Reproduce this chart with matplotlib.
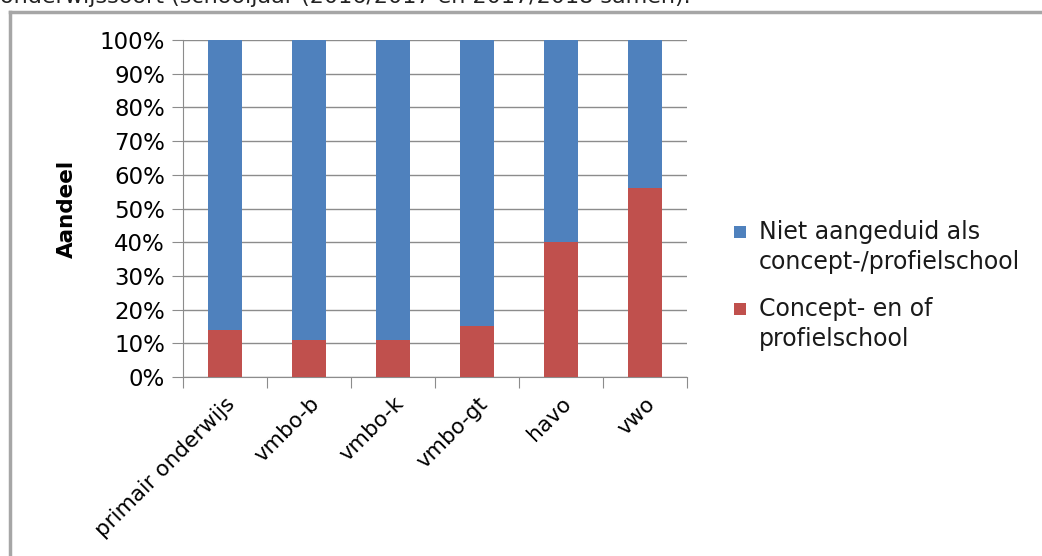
import numpy as np
import matplotlib.pyplot as plt
from matplotlib.lines import Line2D
from matplotlib.patches import Rectangle
from matplotlib.ticker import PercentFormatter

categories = ["primair onderwijs", "vmbo-b", "vmbo-k", "vmbo-gt", "havo", "vwo"]
concept = [14, 11, 11, 15, 40, 56]
niet = [100 - v for v in concept]
labels = ["Niet aangeduid als\nconcept-/profielschool", "Concept- en of\nprofielschool"]
colors = ["#4F81BD", "#C0504D"]

W, H = 1042, 556
fig = plt.figure(figsize=(W / 100, H / 100), dpi=100)
ax = fig.add_axes([183 / W, 1 - 377 / H, (687 - 183) / W, (377 - 40) / H])

x = np.arange(len(categories))
ax.bar(x, concept, width=0.4, color=colors[1], zorder=3)
ax.bar(x, niet, width=0.4, bottom=concept, color=colors[0], zorder=3)

ax.set_xlim(-0.5, len(categories) - 0.5)
ax.set_ylim(0, 100)
ax.set_yticks(range(0, 101, 10))
ax.yaxis.set_major_formatter(PercentFormatter(decimals=0))
ax.grid(axis="y", color="#8c8c8c", linewidth=1.0, zorder=0)

ax.set_xticks(np.arange(len(categories) + 1) - 0.5)
ax.set_xticklabels([])
ax.set_xticks(x, minor=True)
ax.set_xticklabels(categories, minor=True, rotation=45, ha="right",
                   rotation_mode="anchor", fontsize=15.5)
ax.tick_params(axis="x", which="minor", length=0, pad=12)
ax.tick_params(axis="x", which="major", length=8, color="#8c8c8c")
ax.tick_params(axis="y", length=8, color="#8c8c8c", labelsize=16.5, pad=5)

for side in ["top", "right"]:
    ax.spines[side].set_visible(False)
for side in ["left", "bottom"]:
    ax.spines[side].set_color("#8c8c8c")

ax.set_ylabel("Aandeel", fontsize=15.5, fontweight="bold")
ax.yaxis.set_label_coords((77 - 183) / (687 - 183), 0.5)

# legend, square markers aligned with the first text line
for i, (lab, col) in enumerate(zip(labels, colors)):
    top = 1 - (220 + i * 77) / H
    fig.add_artist(Rectangle((734 / W, top - 18 / H), 12 / W, 12 / H,
                             facecolor=col, edgecolor="none"))
    fig.text(759 / W, top, lab, fontsize=17, va="top", ha="left",
             linespacing=1.3, color="#1a1a1a")

# surrounding frame and clipped caption
fig.add_artist(Line2D([10 / W, 10 / W], [0, 1 - 12 / H], color="#a6a6a6", lw=2.5))
fig.add_artist(Line2D([10 / W, 1], [1 - 12 / H, 1 - 12 / H], color="#a6a6a6", lw=2.5))
fig.text(0, 1 - 3 / H, "onderwijssoort (schooljaar (2016/2017 en 2017/2018 samen).",
         fontsize=16, va="baseline", ha="left", color="#222222")

fig.savefig("out.png", dpi=100)
